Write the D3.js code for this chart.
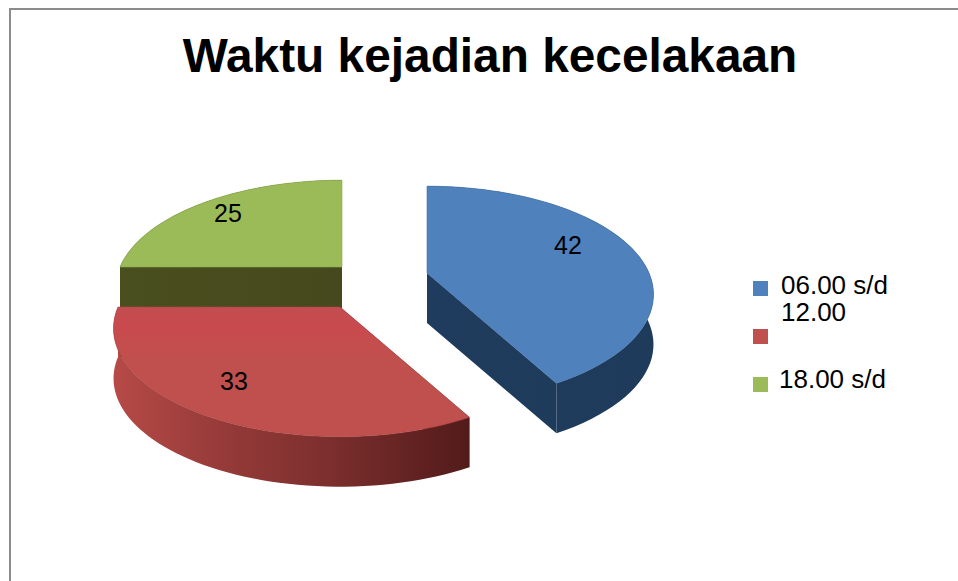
<!DOCTYPE html>
<html><head><meta charset="utf-8">
<style>html,body{margin:0;padding:0;background:#fff}svg{display:block}text{font-family:"Liberation Sans",Arial,sans-serif;fill:#000}</style>
<script src="https://cdn.jsdelivr.net/npm/d3@7/dist/d3.min.js"></script>
</head><body><svg id="c" width="958" height="581"></svg>
<script>
const title = "Waktu kejadian kecelakaan";
const categories = ["06.00 s/d 12.00", "12.00 s/d 18.00", "18.00 s/d 06.00"];
const legendLines = [["06.00 s/d", "12.00"], [], ["18.00 s/d"]];
const values = [42, 33, 25];
const topColors = ["#4f81bd", "#c0504d", "#9bbb59"];

// layout
const apex = [[427, 273], [340, 307], [342, 267]];
const labelPos = [[568, 245], [234, 381], [228, 213]];
const R = 222, H = 104, K = 0.198, DEPTH = [50, 50, 46];

const svg = d3.select("#c");
const defs = svg.append("defs");
function grad(id, stops, x1 = 0, x2 = 1, y1 = 0, y2 = 0) {
  const g = defs.append("linearGradient").attr("id", id)
    .attr("x1", x1).attr("x2", x2).attr("y1", y1).attr("y2", y2);
  stops.forEach(s => g.append("stop").attr("offset", s[0]).attr("stop-color", s[1]));
}
grad("wall0", [[0, "#1f3c5e"], [1, "#1e3b5b"]]);
grad("wall1", [[0, "#b64a47"], [0.3, "#963b39"], [0.6, "#7c2f2e"], [1, "#521b1a"]]);
grad("wall2", [[0, "#4a4f1e"], [1, "#45491d"]]);
grad("top1", [[0, "#c24d50"], [0.15, "#c94a4e"], [0.4, "#c0504d"], [1, "#c0504d"]], 0, 0, 0, 1);

svg.append("path").attr("d", "M10 581V9H958").attr("fill", "none")
  .attr("stroke", "#8c8c8c").attr("stroke-width", 2);

svg.append("text").attr("x", 490).attr("y", 72).attr("text-anchor", "middle")
  .attr("font-weight", "bold").attr("font-size", 47.8).text(title);

const pie = d3.pie().sort(null).value(d => d)(values);
const sx = d3.scaleLinear().domain([-1, 1]).range([-R, R]);
const sy = d3.scaleLinear().domain([-1, 1]).range([-H, H]);
function project(a) {
  const u = Math.sin(a), v = -Math.cos(a), w = 1 - K * v;
  return [sx(u / w), sy(v / w)];
}
const line = d3.line();
function arcPts(s, c, dy) {
  const n = 60;
  return d3.range(n + 1).map(i => {
    const a = s.startAngle + (s.endAngle - s.startAngle) * i / n;
    const p = project(a);
    return [c[0] + p[0], c[1] + p[1] + dy];
  });
}
pie.forEach((s, i) => {
  const c = apex[i], d = DEPTH[i];
  const arc = arcPts(s, c, 0), low = arcPts(s, c, d);
  const g = svg.append("g");
  const wallColor = ["url(#wall0)", "#5a1c1a", "url(#wall2)"][i];
  [arc[0], arc[arc.length - 1]].forEach(p => {
    g.append("path").attr("fill", wallColor)
      .attr("d", line([c, p, [p[0], p[1] + d], [c[0], c[1] + d]]) + "Z");
  });
  g.append("path").attr("fill", i === 1 ? "url(#wall1)" : wallColor)
    .attr("d", line(arc.concat(low.slice().reverse())) + "Z");
  g.append("path").attr("fill", i === 1 ? "url(#top1)" : topColors[i])
    .attr("stroke", d3.color(topColors[i]).darker(0.3)).attr("stroke-width", 0.6)
    .attr("d", line([c].concat(arc)) + "Z");
});

// red overlaps the green wall
svg.selectAll("g").filter((d, i) => i === 1).raise();

pie.forEach((s, i) => {
  svg.append("text").attr("x", labelPos[i][0]).attr("y", labelPos[i][1] + 9)
    .attr("text-anchor", "middle").attr("font-size", 25).text(s.data);
});

const legend = svg.append("g");
categories.forEach((name, i) => {
  legend.append("rect").attr("x", 753).attr("y", 281 + i * 48).attr("width", 15).attr("height", 15)
    .attr("fill", topColors[i]).append("title").text(name);
});
const lineY = [[294, 321], [], [388]];
const lineX = [781, 781, 779];
legendLines.forEach((lines, i) => lines.forEach((t, j) => {
  legend.append("text").attr("x", lineX[i]).attr("y", lineY[i][j]).attr("font-size", 26).text(t);
}));
</script></body></html>
